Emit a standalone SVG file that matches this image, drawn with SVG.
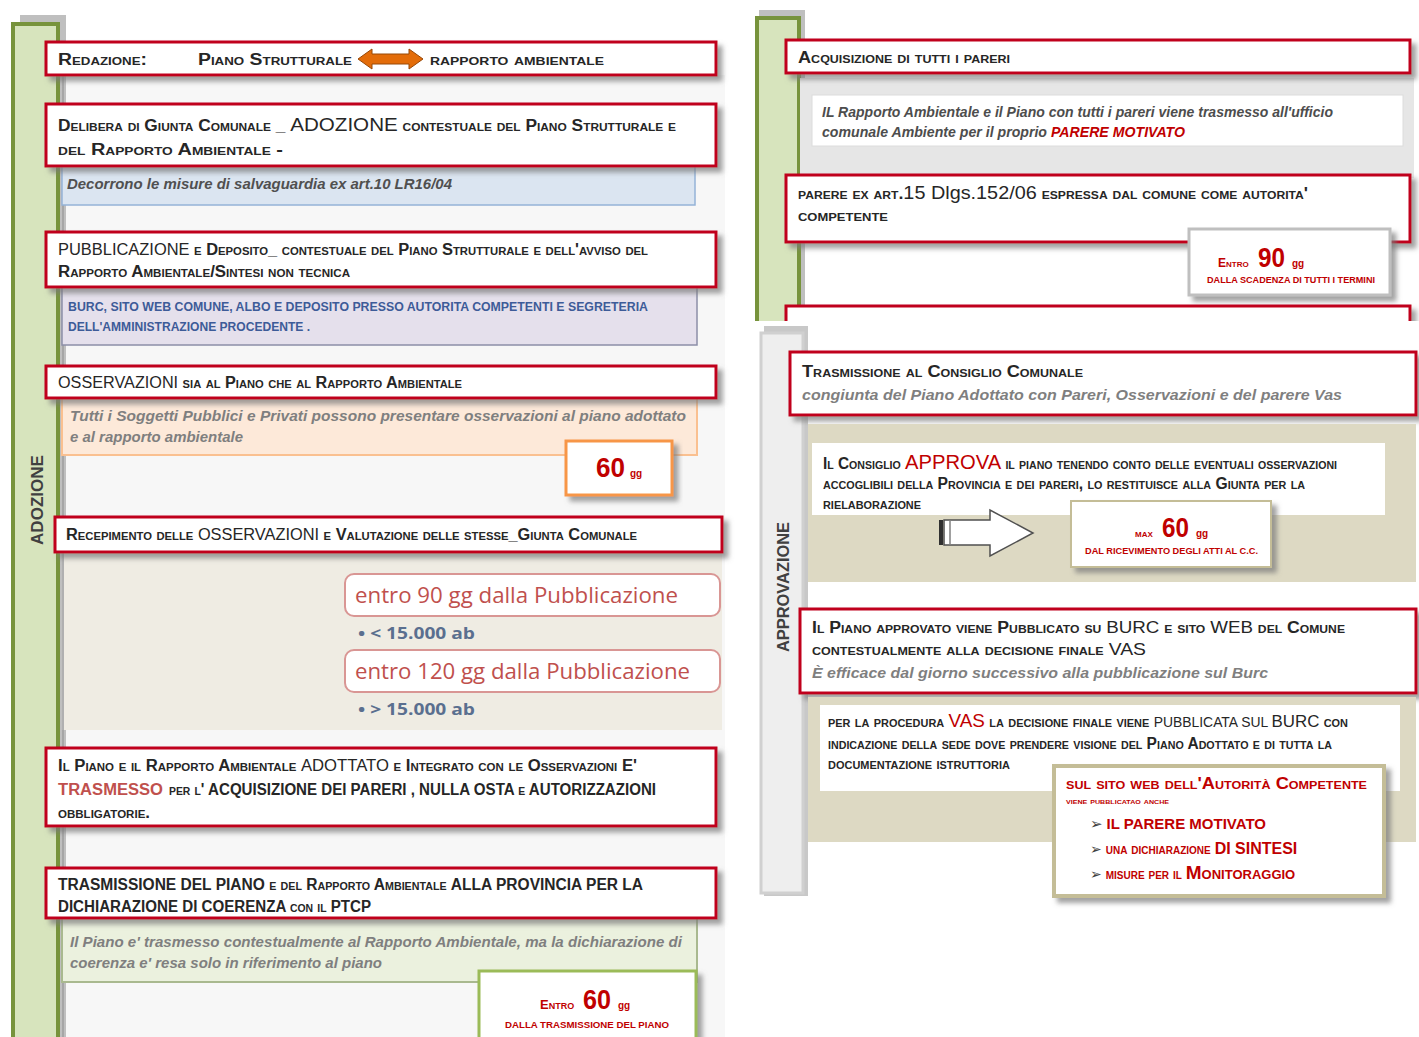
<svg xmlns="http://www.w3.org/2000/svg" width="1419" height="1037" viewBox="0 0 1419 1037">
<defs>
<filter id="sh" x="-5%" y="-20%" width="115%" height="160%"><feDropShadow dx="5" dy="5" stdDeviation="2.5" flood-color="#7a7a7a" flood-opacity="0.7"/></filter>
<clipPath id="clipTR"><rect x="740" y="0" width="679" height="321"/></clipPath>
<style>
.hd{font-family:"Liberation Sans",Arial,sans-serif;font-variant:small-caps;font-weight:700;fill:#262626;font-size:16px}
.big{font-variant:normal}
.it{font-family:"Liberation Sans",Arial,sans-serif;font-style:italic;font-weight:700;fill:#7f7f7f;font-size:15px}
.itd{font-family:"Liberation Sans",Arial,sans-serif;font-style:italic;font-weight:700;fill:#4d4d4d;font-size:15px}
.rb{fill:#fff;stroke:#c0001c;stroke-width:3;filter:url(#sh)}
.cal{font-family:"Open Sans","Noto Sans",sans-serif;fill:#c0504d;font-size:22px}
.ab{font-family:"Open Sans","Noto Sans",sans-serif;font-weight:700;fill:#5a6f8f;font-size:16px}
.num{font-family:"Liberation Sans",Arial,sans-serif;font-weight:700;fill:#c00000}
.sm{font-family:"Liberation Sans",Arial,sans-serif;font-weight:700;fill:#c00000;font-variant:small-caps}
.lbl{font-family:"Liberation Sans",Arial,sans-serif;font-weight:700;fill:#404040;font-size:17px}
.blue{font-family:"Liberation Sans",Arial,sans-serif;font-weight:700;fill:#3d5b98;font-size:13px}
.bul{font-family:"DejaVu Sans",sans-serif;fill:#404040}
</style>
</defs>
<rect width="1419" height="1037" fill="#ffffff"/>

<!-- LEFT COLUMN -->
<g id="phase-adozione">
<rect x="62" y="75" width="663" height="962" fill="#f7f7f7"/>
<rect x="20" y="15" width="46" height="1030" fill="#bfbfbf"/>
<rect x="13" y="24" width="45" height="1020" fill="#d7e4bd" stroke="#77933c" stroke-width="4"/>
<line x1="63" y1="75" x2="63" y2="1037" stroke="#a6a6a6" stroke-width="2"/>
<text class="lbl" transform="translate(43,500) rotate(-90)" text-anchor="middle" textLength="90" lengthAdjust="spacingAndGlyphs">ADOZIONE</text>
</g>

<g id="n-salvaguardia">
<rect x="62" y="162" width="633" height="43" fill="#dbe5f1" stroke="#95b3d7" stroke-width="1.5"/>
<text class="it" x="67" y="189" style="fill:#505050" textLength="385" lengthAdjust="spacingAndGlyphs">Decorrono le misure di salvaguardia ex art.10 LR16/04</text>
</g>
<g id="n-redazione">
<rect class="rb" x="46" y="42" width="670" height="33"/>
<text class="hd" x="58" y="65" textLength="89" lengthAdjust="spacingAndGlyphs">Redazione:</text>
<text class="hd" x="198" y="65" textLength="154" lengthAdjust="spacingAndGlyphs">Piano Strutturale</text>
<text class="hd" x="430" y="65" font-size="17" textLength="174" lengthAdjust="spacingAndGlyphs">rapporto ambientale</text>
</g>
<g id="n-delibera">
<rect class="rb" x="46" y="104" width="670" height="62"/>
<text class="hd" x="58" y="131" textLength="618" lengthAdjust="spacingAndGlyphs">Delibera di Giunta Comunale _ <tspan class="big" font-size="19" font-weight="400">ADOZIONE</tspan> contestuale del Piano Strutturale e</text>
<text class="hd" x="58" y="155" textLength="225" lengthAdjust="spacingAndGlyphs">del Rapporto Ambientale  -</text>
</g>

<g id="n-deposito">
<rect x="62" y="284" width="635" height="61" fill="#e5e0ec" stroke="#8c8fa8" stroke-width="1.5"/>
<text class="blue" x="68" y="311" textLength="580" lengthAdjust="spacingAndGlyphs">BURC, SITO WEB COMUNE, ALBO E DEPOSITO PRESSO AUTORITA COMPETENTI  E SEGRETERIA</text>
<text class="blue" x="68" y="331" textLength="242" lengthAdjust="spacingAndGlyphs">DELL'AMMINISTRAZIONE  PROCEDENTE .</text>
</g>
<g id="n-pubblicazione">
<rect class="rb" x="46" y="232" width="670" height="55"/>
<text class="hd" x="58" y="255" textLength="590" lengthAdjust="spacingAndGlyphs"><tspan class="big" font-weight="400">PUBBLICAZIONE</tspan> e Deposito_ contestuale del Piano Strutturale  e  dell'avviso del</text>
<text class="hd" x="58" y="277" textLength="292" lengthAdjust="spacingAndGlyphs">Rapporto  Ambientale/Sintesi non tecnica</text>
</g>

<g id="n-tutti">
<rect x="62" y="395" width="635" height="60" fill="#fde9d9" stroke="#fac090" stroke-width="2"/>
<text class="it" x="70" y="421" textLength="616" lengthAdjust="spacingAndGlyphs">Tutti i Soggetti   Pubblici  e Privati  possono presentare osservazioni  al piano adottato</text>
<text class="it" x="70" y="442" textLength="173" lengthAdjust="spacingAndGlyphs">e al rapporto ambientale</text>
</g>
<g id="n-osservazioni">
<rect class="rb" x="46" y="366" width="670" height="32"/>
<text class="hd" x="58" y="388" textLength="404" lengthAdjust="spacingAndGlyphs"><tspan class="big" font-weight="400">OSSERVAZIONI</tspan>  sia al Piano che al Rapporto Ambientale</text>
</g>
<g id="n-60gg">
<rect x="566" y="441" width="106" height="54" fill="#fff" stroke="#f79646" stroke-width="3" filter="url(#sh)"/>
<text class="num" x="596" y="477" font-size="28" textLength="29" lengthAdjust="spacingAndGlyphs">60</text>
<text class="num" x="630" y="477" font-size="10">gg</text>
</g>

<g id="n-termini">
<rect x="62" y="550" width="660" height="180" fill="#efece3"/>
<line x1="63" y1="552" x2="63" y2="730" stroke="#b0b0b0" stroke-width="2"/>
<rect x="345" y="574" width="375" height="42" rx="9" fill="#fff" stroke="#d99694" stroke-width="2"/>
<text class="cal" x="355" y="603" textLength="323" lengthAdjust="spacingAndGlyphs">entro 90 gg dalla Pubblicazione</text>
<text class="ab" x="358" y="639" textLength="117" lengthAdjust="spacingAndGlyphs">• &lt; 15.000 ab</text>
<rect x="345" y="650" width="375" height="42" rx="9" fill="#fff" stroke="#d99694" stroke-width="2"/>
<text class="cal" x="355" y="679" textLength="335" lengthAdjust="spacingAndGlyphs">entro 120 gg dalla Pubblicazione</text>
<text class="ab" x="358" y="715" textLength="117" lengthAdjust="spacingAndGlyphs">• &gt; 15.000 ab</text>
</g>
<g id="n-recepimento">
<rect class="rb" x="55" y="517" width="667" height="35"/>
<text class="hd" x="66" y="540" textLength="571" lengthAdjust="spacingAndGlyphs">Recepimento delle <tspan class="big" font-weight="400">OSSERVAZIONI</tspan> e Valutazione delle  stesse_Giunta Comunale</text>
</g>

<g id="n-trasmesso">
<rect class="rb" x="46" y="748" width="670" height="78"/>
<text class="hd" x="58" y="771" font-size="15" textLength="579" lengthAdjust="spacingAndGlyphs">Il Piano e il Rapporto Ambientale  <tspan class="big" font-weight="400">ADOTTATO</tspan> e Integrato con le  Osservazioni  E'</text>
<text class="hd big" x="58" y="795" font-size="15" font-weight="400" style="fill:#c0504d" textLength="105" lengthAdjust="spacingAndGlyphs">TRASMESSO</text>
<text class="hd" x="169" y="795" font-size="14.5" textLength="487" lengthAdjust="spacingAndGlyphs">per l'  ACQUISIZIONE DEI PARERI , NULLA OSTA e AUTORIZZAZIONI</text>
<text class="hd" x="58" y="818" font-size="14" textLength="92" lengthAdjust="spacingAndGlyphs">obbligatorie.</text>
</g>

<g id="n-coerenza">
<rect x="62" y="915" width="635" height="67" fill="#ebf1de" stroke="#a9b98f" stroke-width="2"/>
<text class="it" x="70" y="947" textLength="612" lengthAdjust="spacingAndGlyphs">Il Piano e' trasmesso contestualmente al Rapporto Ambientale, ma la dichiarazione  di</text>
<text class="it" x="70" y="968" textLength="312" lengthAdjust="spacingAndGlyphs">coerenza e' resa solo in riferimento al piano</text>
</g>
<g id="n-provincia">
<rect class="rb" x="46" y="868" width="670" height="50"/>
<text class="hd" x="58" y="890" font-size="15" textLength="585" lengthAdjust="spacingAndGlyphs"><tspan class="big">TRASMISSIONE DEL PIANO </tspan> e del Rapporto Ambientale  <tspan class="big">ALLA PROVINCIA PER LA</tspan></text>
<text class="hd" x="58" y="912" font-size="14.5" textLength="313" lengthAdjust="spacingAndGlyphs">DICHIARAZIONE DI COERENZA con il PTCP</text>
</g>
<g id="n-entro60">
<rect x="479" y="971" width="217" height="75" fill="#fff" stroke="#9bbb59" stroke-width="3" filter="url(#sh)"/>
<text class="sm" x="540" y="1009" font-size="13">Entro</text>
<text class="num" x="583" y="1009" font-size="28" textLength="28" lengthAdjust="spacingAndGlyphs">60</text>
<text class="num" x="618" y="1009" font-size="10">gg</text>
<text class="num" x="505" y="1028" font-size="9.5" textLength="164" lengthAdjust="spacingAndGlyphs">DALLA TRASMISSIONE DEL PIANO</text>
</g>

<!-- RIGHT TOP -->
<g clip-path="url(#clipTR)">
<g id="phase-pareri">
<rect x="759" y="10" width="46" height="320" fill="#bfbfbf"/>
<rect x="757" y="18" width="42" height="312" fill="#d7e4bd" stroke="#77933c" stroke-width="4"/>
</g>
<g id="n-ufficio">
<rect x="800" y="78" width="614" height="100" fill="#e6e6e6"/>
<rect x="812" y="95" width="591" height="51" fill="#fff" stroke="#dcdcdc"/>
<text class="itd" x="822" y="117" textLength="511" lengthAdjust="spacingAndGlyphs">IL Rapporto Ambientale e il Piano con tutti i pareri viene trasmesso all'ufficio</text>
<text class="itd" x="822" y="137" textLength="363" lengthAdjust="spacingAndGlyphs">comunale Ambiente per il proprio <tspan style="fill:#c00000">PARERE MOTIVATO</tspan></text>
</g>
<g id="n-acquisizione">
<rect class="rb" x="786" y="40" width="624" height="33"/>
<text class="hd" x="798" y="63" textLength="212" lengthAdjust="spacingAndGlyphs">Acquisizione di tutti i pareri</text>
</g>
<g id="n-parere">
<rect class="rb" x="786" y="175" width="624" height="67"/>
<text class="hd" x="798" y="199" textLength="510" lengthAdjust="spacingAndGlyphs">parere ex art.<tspan class="big" font-size="18" font-weight="400">15 Dlgs.152/06</tspan> espressa dal comune  come  autorita'</text>
<text class="hd" x="798" y="221" textLength="90" lengthAdjust="spacingAndGlyphs">competente</text>
</g>
<g id="n-entro90">
<rect x="1189" y="229" width="201" height="66" fill="#fff" stroke="#bfbfbf" stroke-width="3" filter="url(#sh)"/>
<text class="sm" x="1218" y="267" font-size="12">Entro</text>
<text class="num" x="1258" y="267" font-size="27" textLength="27" lengthAdjust="spacingAndGlyphs">90</text>
<text class="num" x="1292" y="267" font-size="10">gg</text>
<text class="num" x="1207" y="283" font-size="8.5" textLength="168" lengthAdjust="spacingAndGlyphs">DALLA SCADENZA DI TUTTI I TERMINI</text>
</g>
<g id="n-revisione">
<rect class="rb" x="786" y="306" width="624" height="40"/>
</g>
</g>

<!-- RIGHT BOTTOM -->
<g id="phase-approvazione">
<rect x="764" y="326" width="44" height="570" fill="#c8c8c8"/>
<rect x="761" y="333" width="42" height="560" fill="#eeeeee" stroke="#d0d0d0" stroke-width="3"/>
<text class="lbl" transform="translate(789,587) rotate(-90)" text-anchor="middle" font-size="16" textLength="130" lengthAdjust="spacingAndGlyphs">APPROVAZIONE</text>
</g>
<g id="n-consiglio">
<rect class="rb" x="790" y="352" width="626" height="63"/>
<text class="hd" x="802" y="377" textLength="281" lengthAdjust="spacingAndGlyphs">Trasmissione al Consiglio Comunale</text>
<text class="it" x="802" y="400" font-size="16" textLength="540" lengthAdjust="spacingAndGlyphs">congiunta del Piano Adottato con Pareri, Osservazioni e del parere Vas</text>
</g>
<g id="n-approva">
<rect x="808" y="424" width="608" height="158" fill="#ddd9c3"/>
<rect x="812" y="443" width="573" height="72" fill="#fff"/>
<text class="hd" x="823" y="469" font-size="14" textLength="514" lengthAdjust="spacingAndGlyphs">Il Consiglio <tspan class="big" font-size="21" font-weight="400" style="fill:#c00000">APPROVA</tspan> il piano tenendo conto  delle eventuali osservazioni</text>
<text class="hd" x="823" y="489" font-size="14" textLength="482" lengthAdjust="spacingAndGlyphs">accoglibili  della Provincia e dei pareri,  lo restituisce alla Giunta per la</text>
<text class="hd" x="823" y="509" font-size="14" textLength="98" lengthAdjust="spacingAndGlyphs">rielaborazione</text>
</g>
<g id="n-max60">
<rect x="1071" y="501" width="200" height="66" fill="#fff" stroke="#c4bd97" stroke-width="2" filter="url(#sh)"/>
<text class="sm" x="1135" y="537" font-size="11">max</text>
<text class="num" x="1162" y="537" font-size="27" textLength="27" lengthAdjust="spacingAndGlyphs">60</text>
<text class="num" x="1196" y="537" font-size="10">gg</text>
<text class="num" x="1085" y="554" font-size="9" textLength="173" lengthAdjust="spacingAndGlyphs">DAL RICEVIMENTO DEGLI ATTI AL C.C.</text>
</g>
<g id="n-burc">
<rect class="rb" x="800" y="609" width="616" height="84"/>
<text class="hd" x="812" y="633" font-size="15" textLength="533" lengthAdjust="spacingAndGlyphs">Il Piano approvato viene Pubblicato su <tspan class="big" font-size="17" font-weight="400">BURC</tspan>  e sito <tspan class="big" font-size="17" font-weight="400">WEB</tspan> del Comune</text>
<text class="hd" x="812" y="655" font-size="15" textLength="334" lengthAdjust="spacingAndGlyphs">contestualmente alla decisione finale <tspan class="big" font-size="17" font-weight="400">VAS</tspan></text>
<text class="it" x="812" y="678" font-size="16" textLength="456" lengthAdjust="spacingAndGlyphs">È efficace dal giorno successivo alla pubblicazione sul Burc</text>
</g>
<g id="n-vas">
<rect x="808" y="697" width="608" height="145" fill="#ddd9c3"/>
<rect x="820" y="705" width="580" height="86" fill="#fff"/>
<text class="hd" x="828" y="727" font-size="14" textLength="520" lengthAdjust="spacingAndGlyphs">per la  procedura <tspan class="big" font-size="19" font-weight="400" style="fill:#c00000">VAS</tspan>  la decisione finale viene  <tspan class="big" font-weight="400" font-size="14">PUBBLICATA SUL </tspan><tspan class="big" font-size="17" font-weight="400">BURC</tspan> con</text>
<text class="hd" x="828" y="749" font-size="14" textLength="504" lengthAdjust="spacingAndGlyphs">indicazione della sede dove prendere visione del Piano Adottato e di tutta la</text>
<text class="hd" x="828" y="769" font-size="14" textLength="182" lengthAdjust="spacingAndGlyphs">documentazione istruttoria</text>
</g>
<g id="n-sito">
<rect x="1054" y="766" width="330" height="130" fill="#fff" stroke="#c4bd97" stroke-width="4" filter="url(#sh)"/>
<text class="sm" x="1066" y="789" font-size="16" textLength="301" lengthAdjust="spacingAndGlyphs">sul sito web dell'Autorità Competente</text>
<text class="sm" x="1066" y="804" font-size="9" textLength="103" lengthAdjust="spacingAndGlyphs">viene pubblicatao anche</text>
<text x="1090" y="829" font-size="15"><tspan class="bul">➢</tspan><tspan class="num" font-size="15" font-weight="400" dx="4">IL PARERE MOTIVATO</tspan></text>
<text x="1090" y="854" font-size="14"><tspan class="bul">➢</tspan><tspan class="sm" font-size="14" dx="4">una dichiarazione </tspan><tspan class="num" font-size="16" font-weight="400">DI SINTESI</tspan></text>
<text x="1090" y="879" font-size="14"><tspan class="bul">➢</tspan><tspan class="sm" font-size="14" dx="4">misure per il </tspan><tspan class="sm" font-size="19" font-weight="400">Monitoraggio</tspan></text>
</g>

<g id="connectors">
<path d="M358,59 L372,49 L372,54 L409,54 L409,49 L423,59 L409,69 L409,64 L372,64 L372,69 Z" fill="#e36c09" stroke="#984807" stroke-width="1"/>
<path d="M944,520 L990,520 L990,510 L1033,533 L990,556 L990,545 L944,545 Z" fill="#fff" stroke="#505050" stroke-width="1.5"/>
<rect x="939" y="520" width="4" height="25" fill="#303030"/>
<line x1="950" y1="520" x2="950" y2="545" stroke="#808080" stroke-width="1.5"/>
</g>
</svg>
